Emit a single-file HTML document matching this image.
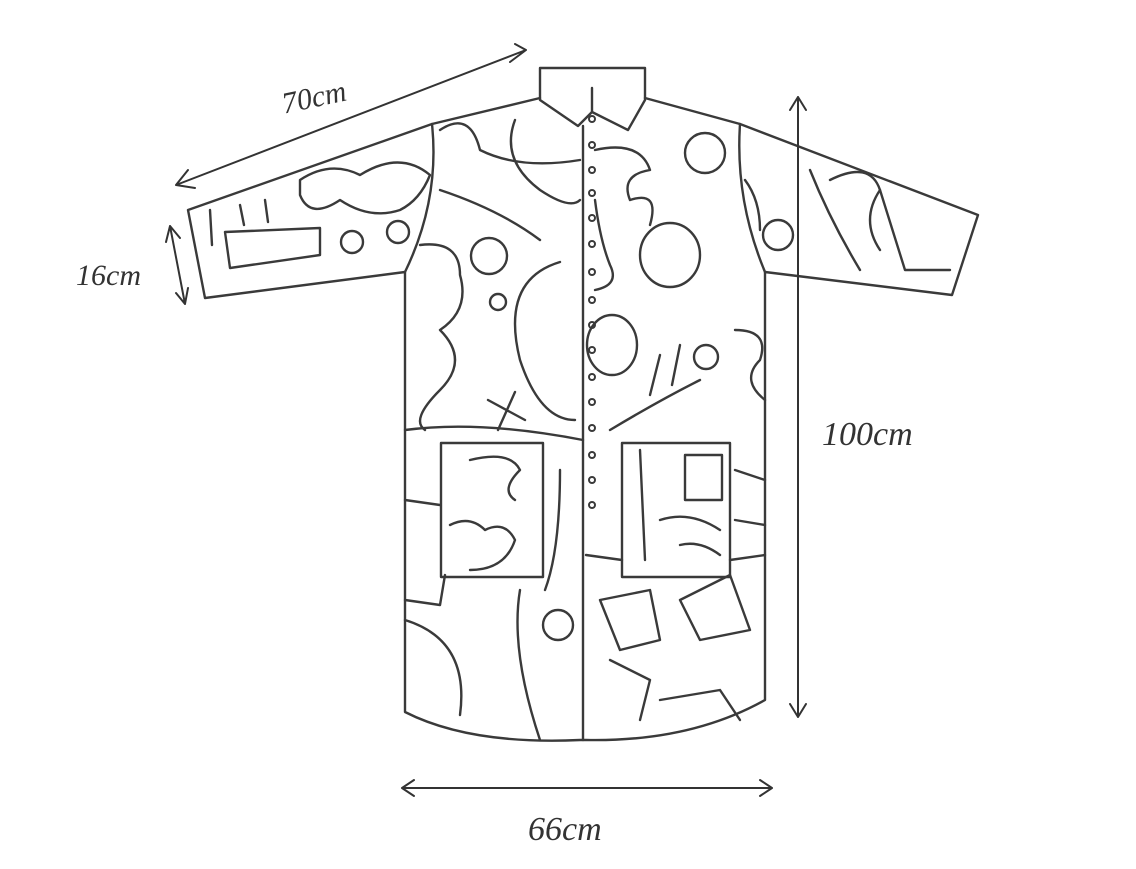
<!DOCTYPE html>
<html><head><meta charset="utf-8"><style>
html,body{margin:0;padding:0;background:#fff;}
svg{display:block}
text{font-family:"Liberation Serif",serif;font-style:italic;fill:#333;}
</style></head><body>
<svg width="1136" height="869" viewBox="0 0 1136 869" xmlns="http://www.w3.org/2000/svg">
<g fill="none" stroke="#3a3a3a" stroke-width="2.4" stroke-linejoin="round" stroke-linecap="round">
<!-- body outline -->
<path d="M540,98 L432,124 L188,210 L205,298 L405,272 L405,712 Q470,745 580,740 L586,740 Q690,742 765,700 L765,272 L952,295 L978,215 L740,124 L645,98"/>
<!-- sleeve seams -->
<path d="M432,124 Q440,200 405,272"/>
<path d="M740,124 Q735,200 765,272"/>
<!-- collar -->
<path d="M540,68 L645,68 L645,100 L628,130 L592,112 L578,126 L540,100 Z"/>
<path d="M592,112 L592,88"/>
<!-- placket -->
<path d="M583,126 L583,740"/>
<!-- pockets -->
<rect x="441" y="443" width="102" height="134"/>
<rect x="622" y="443" width="108" height="134"/>
<!-- pattern: left -->
<circle cx="489" cy="256" r="18"/><circle cx="498" cy="302" r="8"/>
<circle cx="352" cy="242" r="11"/><circle cx="398" cy="232" r="11"/>
<path d="M560,262 Q500,280 520,360 Q540,420 575,420"/>
<path d="M420,245 Q460,240 460,275 Q470,310 440,330 Q470,360 440,390 Q410,420 425,430"/>
<path d="M300,180 Q330,160 360,175 Q400,150 430,175 Q420,200 400,210 Q370,220 340,200 Q310,220 300,195Z"/>
<path d="M440,130 Q470,110 480,150 Q520,170 580,160"/>
<path d="M515,120 Q500,160 540,190 Q570,210 580,200"/>
<path d="M440,190 Q500,210 540,240"/>
<path d="M488,400 L525,420 M498,430 L515,392"/>
<path d="M225,232 L320,228 L320,255 L230,268 Z"/>
<path d="M210,210 L212,245 M240,205 L244,225 M265,200 L268,222"/>
<path d="M405,430 Q480,420 583,440"/>
<path d="M405,500 L440,505 M405,600 L440,605 L445,575"/>
<path d="M470,460 Q510,450 520,470 Q500,490 515,500"/>
<path d="M450,525 Q470,515 485,530 Q505,520 515,540 Q505,570 470,570"/>
<path d="M405,620 Q470,640 460,715"/>
<path d="M520,590 Q510,650 540,740"/>
<circle cx="558" cy="625" r="15"/>
<path d="M560,470 Q560,550 545,590"/>
<!-- pattern: right -->
<ellipse cx="670" cy="255" rx="30" ry="32"/>
<ellipse cx="612" cy="345" rx="25" ry="30"/>
<circle cx="705" cy="153" r="20"/><circle cx="778" cy="235" r="15"/>
<path d="M595,150 Q640,140 650,170 Q620,175 630,200 Q660,190 650,225"/>
<path d="M595,200 Q600,240 610,265 Q620,285 595,290"/>
<path d="M660,355 L650,395 M680,345 L672,385"/>
<circle cx="706" cy="357" r="12"/>
<path d="M610,430 Q660,400 700,380"/>
<path d="M735,330 Q770,330 760,360 Q740,380 765,400"/>
<path d="M745,180 Q760,200 760,230 M810,170 Q830,220 860,270 M830,180 Q870,160 880,190 Q860,220 880,250"/>
<path d="M880,190 L905,270 L950,270"/>
<path d="M685,455 L722,455 L722,500 L685,500 Z"/>
<path d="M640,450 L645,560 M660,520 Q690,510 720,530 M680,545 Q700,540 720,555"/>
<path d="M586,555 L622,560 M730,560 L765,555"/>
<path d="M600,600 L650,590 L660,640 L620,650 Z"/>
<path d="M610,660 L650,680 L640,720"/>
<path d="M680,600 L730,575 L750,630 L700,640 Z"/>
<path d="M660,700 L720,690 L740,720"/>
<path d="M735,470 L765,480 M735,520 L765,525"/>
</g>
<!-- buttons -->
<g fill="none" stroke="#3a3a3a" stroke-width="2">
<circle cx="592" cy="119" r="3"/><circle cx="592" cy="145" r="3"/><circle cx="592" cy="170" r="3"/><circle cx="592" cy="193" r="3"/><circle cx="592" cy="218" r="3"/><circle cx="592" cy="244" r="3"/><circle cx="592" cy="272" r="3"/><circle cx="592" cy="300" r="3"/><circle cx="592" cy="325" r="3"/><circle cx="592" cy="350" r="3"/><circle cx="592" cy="377" r="3"/><circle cx="592" cy="402" r="3"/><circle cx="592" cy="428" r="3"/><circle cx="592" cy="455" r="3"/><circle cx="592" cy="480" r="3"/><circle cx="592" cy="505" r="3"/>
</g>
<!-- dimension arrows -->
<g fill="none" stroke="#333" stroke-width="2" stroke-linecap="round">
<path d="M176,185 L526,50 M176,185 L188,170 M176,185 L195,188 M526,50 L515,44 M526,50 L510,62"/>
<path d="M170,226 L185,304 M170,226 L166,242 M170,226 L180,238 M185,304 L188,288 M185,304 L176,293"/>
<path d="M798,97 L798,717 M798,97 L790,110 M798,97 L806,110 M798,717 L790,704 M798,717 L806,704"/>
<path d="M402,788 L772,788 M402,788 L414,780 M402,788 L414,796 M772,788 L760,780 M772,788 L760,796"/>
</g>
<text x="282" y="108" font-size="30" transform="rotate(-12 310 100)">70cm</text>
<text x="76" y="285" font-size="30">16cm</text>
<text x="822" y="445" font-size="34">100cm</text>
<text x="528" y="840" font-size="34">66cm</text>
</svg>
</body></html>
